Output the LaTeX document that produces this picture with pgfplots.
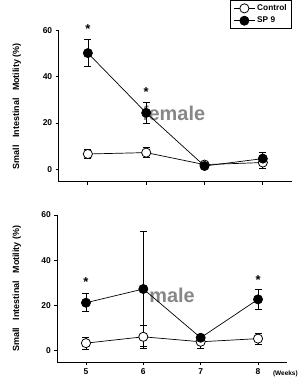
\documentclass[border=0pt]{standalone}
\usepackage{pgfplots}
\pgfplotsset{compat=1.18}
\usepackage{fontspec}
\setmainfont{Liberation Sans}
\definecolor{wmgray}{RGB}{135,135,135}
\pgfplotsset{
  mystyle/.style={
    scale only axis,
    axis x line=bottom, axis y line=left,
    axis line style={-, line width=0.8pt, black},
    xmin=4.5, xmax=8.5, ymax=60,
    xtick={5,6,7,8}, ytick={0,20,40,60},
    tick align=outside, major tick length=3bp,
    tick style={line width=0.8pt, black},
    minor tick num=0,
    /pgf/number format/assume math mode=true,
    ticklabel style={font=\bfseries\fontsize{8.5}{9}\selectfont},
    ylabel={Small\ \ \ Intestinal\ \ \ Motility\ (\%)},
    ylabel style={font=\bfseries\fontsize{9}{10}\selectfont, at={(axis description cs:-0.18,0.5)}, anchor=center},
    clip=false,
  },
  ctrl/.style={black, line width=0.7pt, mark=*, mark size=4.6pt, mark options={fill=white, draw=black, line width=0.8pt},
    error bars/.cd, y dir=both, y explicit, error bar style={line width=0.7pt, black},
    error mark options={rotate=90, mark size=3.5pt, line width=0.7pt, black}},
  sp/.style={black, line width=0.7pt, mark=*, mark size=4.6pt, mark options={fill=black, draw=black},
    error bars/.cd, y dir=both, y explicit, error bar style={line width=0.7pt, black},
    error mark options={rotate=90, mark size=3.5pt, line width=0.7pt, black}},
}
\begin{document}
\begin{tikzpicture}
\path[use as bounding box] (0,0) rectangle (308bp,386bp);
% ---------------- female ----------------
\begin{axis}[mystyle, at={(58.7bp,204.3bp)}, anchor=south west,
  width=233.3bp, height=151bp, ymin=-5.4, xticklabels={},
  legend style={at={(rel axis cs:1,1.013)}, anchor=south east, draw=black, line width=0.8pt,
    font=\bfseries\fontsize{8.3}{10}\selectfont, legend cell align=left, row sep=1pt, inner xsep=3pt},
  legend image code/.code={\draw[#1, mark repeat=2, mark phase=2] plot coordinates {(0bp,0bp) (10.5bp,0bp) (21bp,0bp)};},
]
\node[font=\bfseries\fontsize{20}{21}\selectfont, text=wmgray] at (axis cs:6.47,24.4) {female};
\addplot[ctrl] coordinates {(5,6.6) +- (0,2.0) (6,7.2) +- (0,2.2) (7,2.0) +- (0,1.6) (8,2.9) +- (0,2.5)};
\addlegendentry{Control}
\addplot[sp] coordinates {(5,50.3) +- (0,5.8) (6,24.4) +- (0,4.4) (7,1.4) +- (0,1.0) (8,4.6) +- (0,2.6)};
\addlegendentry{SP 9}
\node[font=\bfseries\fontsize{13}{14}\selectfont] at (axis cs:5,60.5) {*};
\node[font=\bfseries\fontsize{13}{14}\selectfont] at (axis cs:6,33.3) {*};
\end{axis}
% ---------------- male ----------------
\begin{axis}[mystyle, at={(57.3bp,23.7bp)}, anchor=south west,
  width=229.4bp, height=147.3bp, ymin=-5.3,
  ylabel style={at={(axis description cs:-0.177,0.5)}},
]
\node[font=\bfseries\fontsize{20}{21}\selectfont, text=wmgray] at (axis cs:6.5,24.5) {male};
\addplot[ctrl] coordinates {(5,3.2) +- (0,2.7) (6,6.0) +- (0,5.2) (7,3.8) +- (0,3.0) (8,5.2) +- (0,2.5)};
\addplot[sp] coordinates {(5,21.1) +- (0,4.0) (6,27.2) +- (0,25.4) (7,5.6) +- (0,1.5) (8,22.6) +- (0,4.3)};
\node[font=\bfseries\fontsize{13}{14}\selectfont] at (axis cs:5,30.3) {*};
\node[font=\bfseries\fontsize{13}{14}\selectfont] at (axis cs:8,31.0) {*};
\node[font=\bfseries\fontsize{6.5}{7}\selectfont, anchor=west] at (axis description cs:0.925,-0.079) {(Weeks)};
\end{axis}
\end{tikzpicture}
\end{document}
